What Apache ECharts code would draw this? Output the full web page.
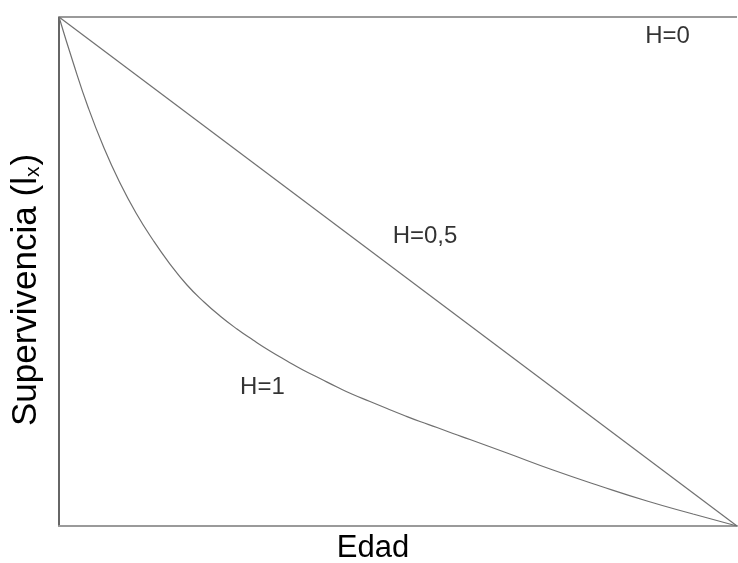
<!DOCTYPE html>
<html>
<head>
<meta charset="utf-8">
<script src="https://cdn.jsdelivr.net/npm/echarts@6/dist/echarts.min.js"></script>
<style>html,body{margin:0;padding:0;background:#fff}#c{width:738px;height:563px}</style>
</head>
<body>
<div id="c"></div>
<script>
// Edad (0-100 scale) and survivorship values
const edadH1 = [0, 2.06, 4.28, 6.64, 9.00, 11.36, 13.86, 16.37, 18.88, 21.39, 23.75, 26.25, 28.61, 31.12, 33.63, 35.99, 38.50, 41.00, 43.36, 45.87, 48.38, 50.74, 53.24, 55.75, 58.11, 60.62, 66.08, 72.86, 79.79, 86.73, 93.51, 100];
const survH1 = [100, 91.16, 82.32, 74.26, 67.39, 61.49, 56.19, 51.47, 47.35, 44.01, 41.26, 38.70, 36.54, 34.38, 32.42, 30.65, 28.98, 27.31, 25.83, 24.46, 23.08, 21.81, 20.53, 19.35, 18.17, 16.99, 14.34, 11.00, 7.86, 4.91, 2.36, 0];
const edadH05 = [0, 100];
const survH05 = [100, 0];
const edadH0 = [0, 100];
const survH0 = [100, 100];
const labelTexts = ['H=0', 'H=0,5', 'H=1'];
const labelEdad = [89.75, 53.98, 30.0];
const labelSurv = [96.2, 56.97, 27.3];
const xTitle = 'Edad';
const yTitle = 'Supervivencia (l';
const ySub = 'x';

const zip = (a, b) => a.map((v, i) => [v, b[i]]);
const font = '"Liberation Sans", Arial, sans-serif';

const chart = echarts.init(document.getElementById('c'), null, {renderer: 'canvas'});
chart.setOption({
  animation: false,
  backgroundColor: '#fff',
  grid: {left: 59, top: 17, right: 1, bottom: 37, containLabel: false},
  xAxis: {
    type: 'value', min: 0, max: 100,
    axisLine: {show: true, lineStyle: {color: '#9a9a9a', width: 2}},
    axisTick: {show: false}, axisLabel: {show: false}, splitLine: {show: false}
  },
  yAxis: {
    type: 'value', min: 0, max: 100,
    axisLine: {show: true, lineStyle: {color: '#333', width: 1.5}},
    axisTick: {show: false}, axisLabel: {show: false}, splitLine: {show: false}
  },
  series: [
    {type: 'line', data: zip(edadH0, survH0), symbol: 'none', lineStyle: {color: '#9a9a9a', width: 2}},
    {type: 'line', data: zip(edadH05, survH05), symbol: 'none', lineStyle: {color: '#707070', width: 1.2}},
    {type: 'line', data: zip(edadH1, survH1), symbol: 'none', smooth: 0.5, lineStyle: {color: '#707070', width: 1.2}},
    {
      type: 'scatter', symbolSize: 0,
      data: labelTexts.map((t, i) => ({value: [labelEdad[i], labelSurv[i]], name: t})),
      label: {show: true, position: 'inside', formatter: p => p.name, color: '#000', fontSize: 24, fontFamily: font}
    }
  ],
  graphic: [
    {type: 'text', x: 373, y: 548, style: {text: xTitle, fontSize: 31, fontFamily: font, fill: '#000', align: 'center', verticalAlign: 'middle'}},
    {type: 'text', x: 26, y: 290, rotation: Math.PI / 2,
      style: {
        text: '{a|' + yTitle + '}{s|' + ySub + '}{a|)}',
        align: 'center', verticalAlign: 'middle', fill: '#000',
        rich: {
          a: {fontSize: 35, fontFamily: font, fill: '#000'},
          s: {fontSize: 21, fontFamily: font, fill: '#000', padding: [14, 1, 0, 0]}
        }
      }}
  ]
});
</script>
</body>
</html>
